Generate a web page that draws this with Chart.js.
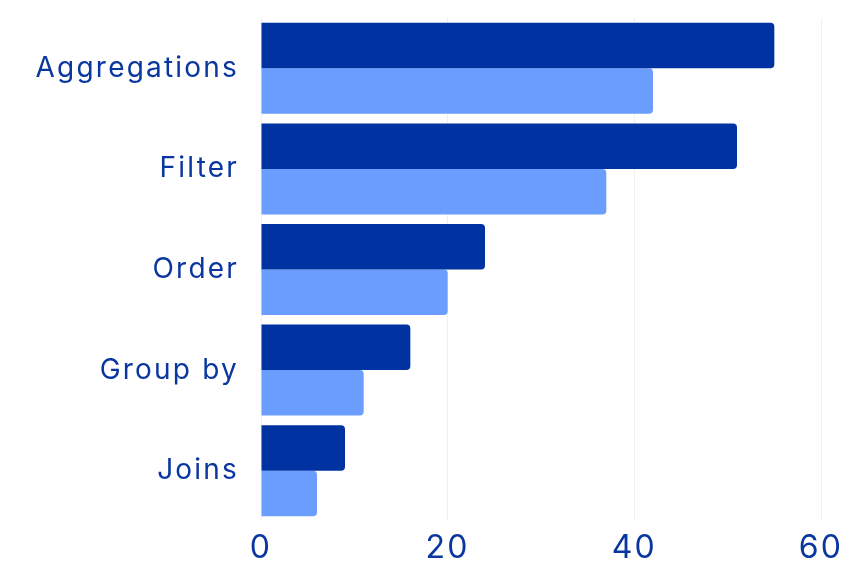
<!DOCTYPE html>
<html>
<head>
<meta charset="utf-8">
<script src="https://cdn.jsdelivr.net/npm/chart.js@4.4.1/dist/chart.umd.min.js"></script>
<style>
  html, body { margin: 0; padding: 0; background: #fff; }
  #wrap { width: 844px; height: 561px; }
</style>
</head>
<body>
<div id="wrap"><canvas id="queryChart"></canvas></div>
<script>
// Categories and series values
const categories = ['Aggregations', 'Filter', 'Order', 'Group by', 'Joins'];
const seriesA = [55, 51, 24, 16, 9];
const seriesB = [42, 37, 20, 11, 6];
const xTicks = [0, 20, 40, 60];

const textColor = '#0a36a0';

// the reference font is a bit wider than Inter, so space letters out a little
const spacing = {
    id: 'spacing',
    beforeDraw(chart) { chart.ctx.letterSpacing = '2.2px'; }
};

const ctx = document.getElementById('queryChart').getContext('2d');

new Chart(ctx, {
    type: 'bar',
    data: {
        labels: categories,
        datasets: [{
            label: 'Series A',
            data: seriesA,
            backgroundColor: '#0033a1',
            borderRadius: 4,
            borderSkipped: 'start',
            categoryPercentage: 0.905,
            barPercentage: 1
        }, {
            label: 'Series B',
            data: seriesB,
            backgroundColor: '#6b9dfe',
            borderRadius: 4,
            borderSkipped: 'start',
            categoryPercentage: 0.905,
            barPercentage: 1
        }]
    },
    plugins: [spacing],
    options: {
        indexAxis: 'y',
        responsive: true,
        maintainAspectRatio: false,
        animation: false,
        layout: { padding: { top: 18, right: 23, bottom: 0, left: 0 } },
        plugins: {
            legend: { display: false },
            tooltip: { enabled: false }
        },
        scales: {
            x: {
                min: 0,
                max: 60,
                afterBuildTicks: axis => { axis.ticks = xTicks.map(v => ({ value: v })); },
                afterFit: axis => {
                    axis.height = 40;
                    axis.paddingLeft = 0;
                    axis.paddingRight = 0;
                },
                grid: { color: '#f0f0f2', drawTicks: false },
                border: { display: false },
                ticks: {
                    color: textColor,
                    padding: 8,
                    font: { family: 'Inter', size: 32 }
                }
            },
            y: {
                afterFit: axis => {
                    axis.width = 261;
                    axis.paddingTop = 0;
                    axis.paddingBottom = 0;
                },
                grid: { display: false, drawTicks: false },
                border: { display: false },
                ticks: {
                    color: textColor,
                    padding: 22,
                    font: { family: 'Inter', size: 28 }
                }
            }
        }
    }
});
</script>
</body>
</html>
